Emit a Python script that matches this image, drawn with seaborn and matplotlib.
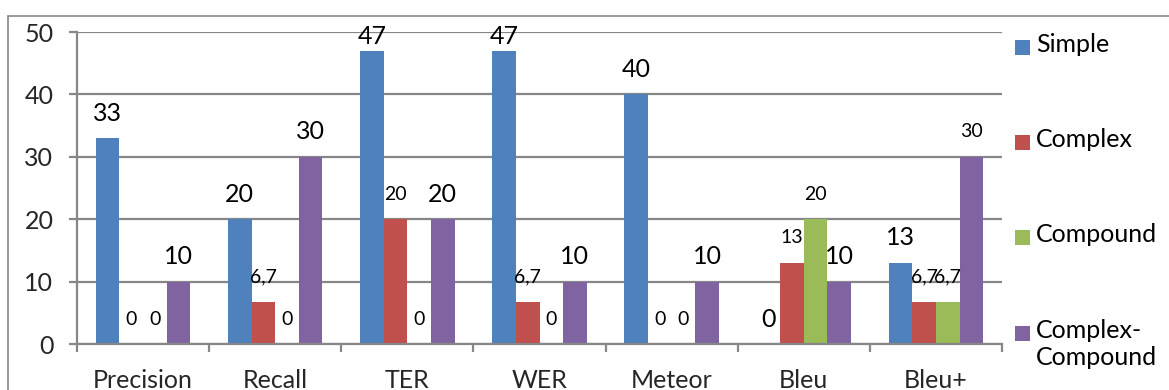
import matplotlib
matplotlib.use("Agg")
import matplotlib.pyplot as plt
from matplotlib.patches import Rectangle
from matplotlib.ticker import FixedLocator
import seaborn as sns
import pandas as pd

# Scores per metric and sentence type
metrics = ["Precision", "Recall", "TER", "WER", "Meteor", "Bleu", "Bleu+"]
series = ["Simple", "Complex", "Compound", "Complex-Compound"]
simple = [33, 20, 47, 47, 40, 0, 13]
complex_ = [0, 6.7, 20, 6.7, 0, 13, 6.7]
compound = [0, 0, 0, 0, 0, 20, 6.7]
complex_compound = [10, 30, 20, 10, 10, 10, 30]
legend_labels = ["Simple", "Complex", "Compound", "Complex-\nCompound"]
y_ticks = [0, 10, 20, 30, 40, 50]

# Which value labels are drawn in the larger font (per series, per metric)
large_label = [
    [True, True, True, True, True, True, True],
    [False, False, False, False, False, False, False],
    [False, False, False, False, False, False, False],
    [True, True, True, True, True, True, False],
]

colors = ["#4F81BD", "#C0504D", "#9BBB59", "#8064A2"]
grey = "#878787"

df = pd.DataFrame({
    "metric": metrics * 4,
    "series": sum([[s] * len(metrics) for s in series], []),
    "value": simple + complex_ + compound + complex_compound,
})

sns.set_theme(style="white")
plt.rcParams["font.family"] = ["Lato", "DejaVu Sans"]

W, H = 1169, 390
fig = plt.figure(figsize=(W / 100, H / 100), dpi=100)
ax = fig.add_axes([77 / W, 1 - 344 / H, (1002 - 77) / W, (344 - 32) / H])

sns.barplot(data=df, x="metric", y="value", hue="series", order=metrics,
            hue_order=series, palette=colors, width=0.714, saturation=1,
            ax=ax, legend=False, linewidth=0)

ax.set_ylim(0, 50)
ax.set_xlim(-0.5, len(metrics) - 0.5)
ax.set_yticks(y_ticks)
ax.yaxis.grid(True, color=grey, linewidth=1.6)
ax.set_axisbelow(True)
ax.set_xlabel("")
ax.set_ylabel("")

for side in ["top", "right"]:
    ax.spines[side].set_visible(False)
for side in ["left", "bottom"]:
    ax.spines[side].set_color(grey)
    ax.spines[side].set_linewidth(1.6)

ax.tick_params(axis="y", which="major", length=6, width=1.6, color=grey,
               pad=11, labelsize=18, left=True)
ax.tick_params(axis="x", which="major", length=0, pad=18, labelsize=18)
ax.xaxis.set_minor_locator(FixedLocator([i - 0.5 for i in range(len(metrics) + 1)]))
ax.tick_params(axis="x", which="minor", length=6, width=1.6, color=grey,
               direction="out", bottom=True)

# Value labels above each bar
for si, cont in enumerate(ax.containers):
    for mi, bar in enumerate(cont):
        v = bar.get_height()
        txt = str(int(v)) if float(v).is_integer() else f"{v:g}".replace(".", ",")
        x = bar.get_x() + bar.get_width() / 2
        y = min(v + 4.0, 49.2)
        ax.text(x, y, txt, ha="center", va="center",
                fontsize=18 if large_label[si][mi] else 14,
                color="black", clip_on=False)

# Legend: colour squares with their series names
legend_y = [47, 142, 237, 333]
for c, lab, yc in zip(colors, legend_labels, legend_y):
    fig.add_artist(Rectangle((1015 / W, 1 - (yc + 7.5) / H), 15 / W, 15 / H,
                             transform=fig.transFigure, facecolor=c,
                             edgecolor="none"))
    fig.text(1036 / W, 1 - (yc - 14) / H, lab, ha="left", va="top",
             fontsize=18, linespacing=1.2, color="black")

# Chart frame
fig.add_artist(Rectangle((8 / W, -0.2), 1.2, 1 - 16 / H + 0.2,
                         transform=fig.transFigure, fill=False,
                         edgecolor=grey, linewidth=1.2))

fig.savefig("out.png", dpi=100)
